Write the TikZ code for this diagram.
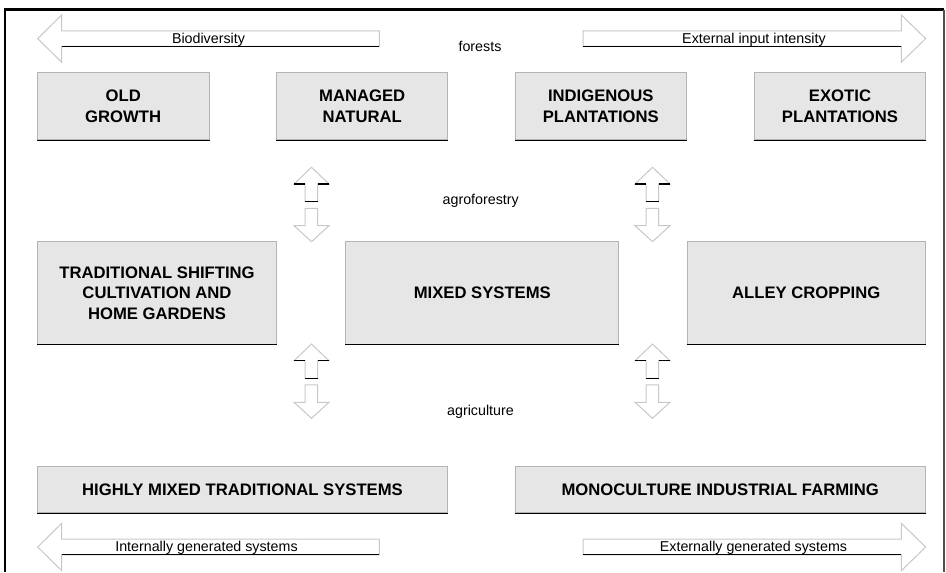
\documentclass[tikz,border=0pt]{standalone}
\usepackage{fontspec}
\setmainfont{Liberation Sans}
\definecolor{boxfill}{HTML}{E6E6E6}
\definecolor{boxedge}{HTML}{B4B4B4}
\definecolor{arredge}{HTML}{C8C8C8}
\definecolor{frameR}{HTML}{505050}
\begin{document}
\begin{tikzpicture}[x=0.75pt,y=-0.75pt,
  box/.style={fill=boxfill,draw=boxedge,line width=0.75pt,align=center,inner sep=0pt,
    font=\fontsize{12.5}{15.5}\selectfont\bfseries},
  lbl/.style={inner sep=0pt,font=\fontsize{10.7}{12}\selectfont},
  arr/.style={draw=arredge,fill=white,line width=0.75pt},
  shade/.style={draw=black,line width=0.9pt}]
\useasboundingbox (0,0) rectangle (946,572);
% frame
\draw[line width=1.6pt] (5,572) -- (5,9.5) -- (944,9.5);
\draw[frameR,line width=1.1pt] (944,9.5) -- (944,572);

% horizontal arrows
\newcommand{\leftarr}[3]{% #1 tip x, #2 center y, #3 tail x
  \draw[arr] (#3,#2-7.8) -- (#1+24,#2-7.8) -- (#1+24,#2-23.7) -- (#1,#2) -- (#1+24,#2+23.7) -- (#1+24,#2+7.8) -- (#3,#2+7.8) -- cycle;
  \draw[shade] (#1+24,#2+7.8) -- (#3,#2+7.8);}
\newcommand{\rightarr}[3]{% #1 tip x, #2 center y, #3 tail x
  \draw[arr] (#3,#2-7.8) -- (#1-24.4,#2-7.8) -- (#1-24.4,#2-23.7) -- (#1,#2) -- (#1-24.4,#2+23.7) -- (#1-24.4,#2+7.8) -- (#3,#2+7.8) -- cycle;
  \draw[shade] (#3,#2+7.8) -- (#1-24.4,#2+7.8);}
\newcommand{\uparr}[2]{% #1 center x, #2 tip y
  \draw[arr] (#1,#2) -- (#1+17.5,#2+16.7) -- (#1+6,#2+16.7) -- (#1+6,#2+34.4) -- (#1-6.5,#2+34.4) -- (#1-6.5,#2+16.7) -- (#1-17.5,#2+16.7) -- cycle;
  \draw[shade] (#1-17.5,#2+16.7) -- (#1-6.5,#2+16.7);
  \draw[shade] (#1+6,#2+16.7) -- (#1+17.5,#2+16.7);
  \draw[shade] (#1-6.5,#2+34.4) -- (#1+6,#2+34.4);}
\newcommand{\downarr}[2]{% #1 center x, #2 tip y
  \draw[arr] (#1,#2) -- (#1+17.5,#2-16) -- (#1+6,#2-16) -- (#1+6,#2-33.4) -- (#1-6.5,#2-33.4) -- (#1-6.5,#2-16) -- (#1-17.5,#2-16) -- cycle;}

\leftarr{37.7}{38.6}{379.3}
\rightarr{925.7}{38.6}{583}
\leftarr{37.7}{547}{379.3}
\rightarr{925.7}{547}{583}

\uparr{311.5}{167.3}
\downarr{311.5}{241.7}
\uparr{652.5}{167.3}
\downarr{652.5}{241.7}
\uparr{311.5}{344}
\downarr{311.5}{418.3}
\uparr{652.5}{344}
\downarr{652.5}{418.3}

% arrow labels
\node[lbl] (bio) at (208.5,39.5) {Biodiversity};
\node[lbl] (ext) at (754,39.5) {External input intensity};
\node[lbl] (int) at (206.5,548) {Internally generated systems};
\node[lbl] (exg) at (753.5,548) {Externally generated systems};
\node[lbl] (forests) at (480,46.5) {forests};
\node[lbl] (agrof) at (480.7,200.5) {agroforestry};
\node[lbl] (agric) at (480.5,412) {agriculture};

% boxes
\node[box,minimum width=128.8pt,minimum height=50.5pt] (old) at (123.2,106.3) {OLD\\GROWTH};
\node[box,minimum width=128.3pt,minimum height=50.5pt] (man) at (362.2,106.3) {MANAGED\\NATURAL};
\node[box,minimum width=128.3pt,minimum height=50.5pt] (ind) at (600.8,106.3) {INDIGENOUS\\PLANTATIONS};
\node[box,minimum width=128.3pt,minimum height=50.5pt] (exo) at (840,106.3) {EXOTIC\\PLANTATIONS};
\node[box,minimum width=179.5pt,minimum height=77pt] (trad) at (157,293) {TRADITIONAL SHIFTING\\CULTIVATION AND\\HOME GARDENS};
\node[box,minimum width=205pt,minimum height=77pt] (mix) at (482.3,293) {MIXED SYSTEMS};
\node[box,minimum width=178.7pt,minimum height=77pt] (alley) at (806.2,293) {ALLEY CROPPING};
\node[box,minimum width=307.8pt,minimum height=34.5pt] (high) at (242.5,489.7) {HIGHLY MIXED TRADITIONAL SYSTEMS};
\node[box,minimum width=307.7pt,minimum height=34.5pt] (mono) at (720.2,489.7) {MONOCULTURE INDUSTRIAL FARMING};
\foreach \b in {old,man,ind,exo,trad,mix,alley,high,mono}
  \draw[shade] (\b.south west) -- (\b.south east);
\end{tikzpicture}
\end{document}
